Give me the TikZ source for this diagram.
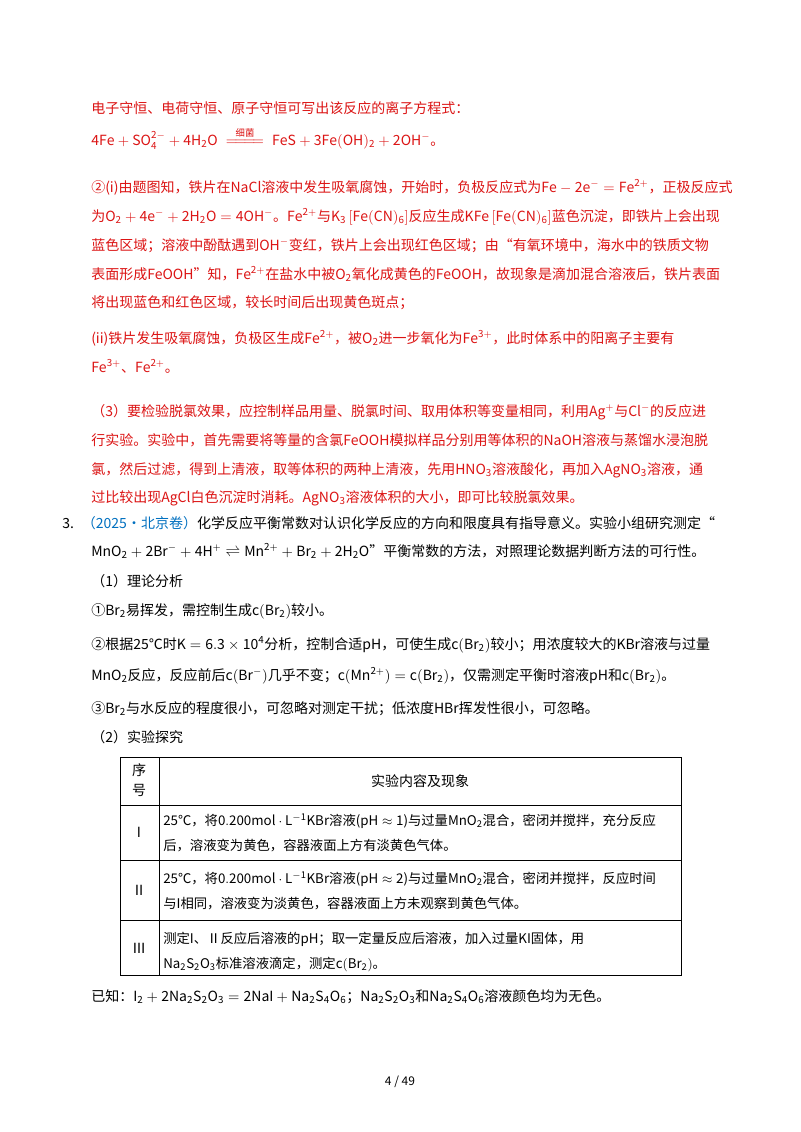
\documentclass[tikz,border=0pt]{standalone}
\usepackage{fontspec}
\usepackage{amsmath}
\setmainfont{Noto Sans CJK SC}
\definecolor{myred}{RGB}{220,20,20}
\definecolor{myblue}{RGB}{0,112,192}
\newcommand{\ce}[1]{$\mathrm{#1}$}
\begin{document}
\begin{tikzpicture}[x=0.75pt,y=-0.75pt,
  t/.style={anchor=base west,inner sep=0pt,font=\fontsize{10.5pt}{12pt}\selectfont},
  tt/.style={t,font=\fontsize{10pt}{12pt}\selectfont},
  r/.style={t,text=myred},
  c/.style={anchor=base,inner sep=0pt,font=\fontsize{10.5pt}{12pt}\selectfont}]
\useasboundingbox[fill=white] (0,0) rectangle (800,1132);
\node[r] (l1) at (91,113) {电子守恒、电荷守恒、原子守恒可写出该反应的离子方程式：};
\node[r] (l2) at (91,145) {\ce{4Fe+SO_4^{2-}+4H_2O\;\overset{\text{\fontsize{7pt}{8pt}\selectfont 细菌}}{=\!=\!=\!=}\;FeS+3Fe(OH)_2+2OH^-}。};
\node[r] (l3) at (91,192) {②(i)由题图知，铁片在NaCl溶液中发生吸氧腐蚀，开始时，负极反应式为\ce{Fe-2e^-=Fe^{2+}}，正极反应式};
\node[r] (l4) at (91,221) {为\ce{O_2+4e^-+2H_2O=4OH^-}。\ce{Fe^{2+}}与\ce{K_3\left[Fe(CN)_6\right]}反应生成\ce{KFe\left[Fe(CN)_6\right]}蓝色沉淀，即铁片上会出现};
\node[r] (l5) at (91,250) {蓝色区域；溶液中酚酞遇到\ce{OH^-}变红，铁片上会出现红色区域；由“有氧环境中，海水中的铁质文物};
\node[r] (l6) at (91,279) {表面形成FeOOH”知，\ce{Fe^{2+}}在盐水中被\ce{O_2}氧化成黄色的FeOOH，故现象是滴加混合溶液后，铁片表面};
\node[r] (l7) at (91,307) {将出现蓝色和红色区域，较长时间后出现黄色斑点；};
\node[r] (l8) at (91,343) {(ii)铁片发生吸氧腐蚀，负极区生成\ce{Fe^{2+}}，被\ce{O_2}进一步氧化为\ce{Fe^{3+}}，此时体系中的阳离子主要有};
\node[r] (l9) at (91,372) {\ce{Fe^{3+}}、\ce{Fe^{2+}}。};
\node[r] (l10) at (91,416) {（3）要检验脱氯效果，应控制样品用量、脱氯时间、取用体积等变量相同，利用\ce{Ag^+}与\ce{Cl^-}的反应进};
\node[r] (l11) at (91,445) {行实验。实验中，首先需要将等量的含氯FeOOH模拟样品分别用等体积的NaOH溶液与蒸馏水浸泡脱};
\node[r] (l12) at (91,474) {氯，然后过滤，得到上清液，取等体积的两种上清液，先用\ce{HNO_3}溶液酸化，再加入\ce{AgNO_3}溶液，通};
\node[r] (l13) at (91,502) {过比较出现AgCl白色沉淀时消耗。\ce{AgNO_3}溶液体积的大小，即可比较脱氯效果。};
\node[t] (q1) at (62,528) {3.\hspace{6pt}\textcolor{myblue}{（2025·北京卷）}化学反应平衡常数对认识化学反应的方向和限度具有指导意义。实验小组研究测定“};
\node[t] (q2) at (91,556) {\ce{MnO_2+2Br^-+4H^+\rightleftharpoons Mn^{2+}+Br_2+2H_2O}”平衡常数的方法，对照理论数据判断方法的可行性。};
\node[t] (q3) at (91,586) {（1）理论分析};
\node[t] (q4) at (91,615) {①\ce{Br_2}易挥发，需控制生成\ce{c(Br_2)}较小。};
\node[t] (q5) at (91,649) {②根据25℃时\ce{K=6.3\times10^4}分析，控制合适pH，可使生成\ce{c(Br_2)}较小；用浓度较大的KBr溶液与过量};
\node[t] (q6) at (91,680) {\ce{MnO_2}反应，反应前后\ce{c(Br^-)}几乎不变；\ce{c(Mn^{2+})=c(Br_2)}，仅需测定平衡时溶液pH和\ce{c(Br_2)}。};
\node[t] (q7) at (91,713) {③\ce{Br_2}与水反应的程度很小，可忽略对测定干扰；低浓度HBr挥发性很小，可忽略。};
\node[t] (q8) at (91,742) {（2）实验探究};
% table
\draw[line width=0.6pt] (120,757) rectangle (681,975);
\draw[line width=0.6pt] (159,757) -- (159,975);
\draw[line width=0.6pt] (120,805) -- (681,805) (120,860) -- (681,860) (120,920) -- (681,920);
\node[c] (h1) at (139,775) {序};
\node[c] (h2) at (139,795) {号};
\node[c] (h3) at (420,786) {实验内容及现象};
\node[c] (r1) at (139,837) {\ce{I}};
\node[tt] (r1a) at (163,825) {25℃，将\ce{0.200mol\cdot L^{-1}}KBr溶液(\ce{pH\approx1})与过量\ce{MnO_2}混合，密闭并搅拌，充分反应};
\node[tt] (r1b) at (163,850) {后，溶液变为黄色，容器液面上方有淡黄色气体。};
\node[c] (r2) at (139,895) {Ⅱ};
\node[tt] (r2a) at (163,883) {25℃，将\ce{0.200mol\cdot L^{-1}}KBr溶液(\ce{pH\approx2})与过量\ce{MnO_2}混合，密闭并搅拌，反应时间};
\node[tt] (r2b) at (163,908) {与I相同，溶液变为淡黄色，容器液面上方未观察到黄色气体。};
\node[c] (r3) at (139,953) {Ⅲ};
\node[tt] (r3a) at (163,943) {测定I、Ⅱ反应后溶液的\ce{pH}；取一定量反应后溶液，加入过量KI固体，用};
\node[tt] (r3b) at (163,968) {\ce{Na_2S_2O_3}标准溶液滴定，测定\ce{c(Br_2)}。};
\node[t] (k) at (91,1001) {已知：\ce{I_2+2Na_2S_2O_3=2NaI+Na_2S_4O_6}；\ce{Na_2S_2O_3}和\ce{Na_2S_4O_6}溶液颜色均为无色。};
\node[c,font=\fontsize{9pt}{10pt}\selectfont] (pg) at (400,1085) {4 / 49};
\end{tikzpicture}
\end{document}
